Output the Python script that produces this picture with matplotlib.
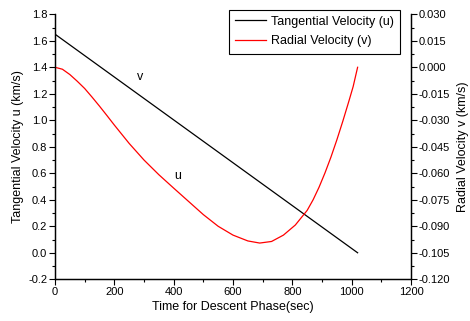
import matplotlib
matplotlib.use("Agg")
import matplotlib.pyplot as plt
from matplotlib.ticker import MultipleLocator, FormatStrFormatter

plt.rcParams['font.family'] = ['Liberation Sans', 'DejaVu Sans']

# Tangential velocity u (km/s), left axis
t_u = [0, 1020]
u_vals = [1.65, 0.0]

# Radial velocity v (km/s), right axis
t_v = [0, 25, 50, 75, 100, 125, 150, 175, 200, 250, 300, 350, 400, 450, 500,
       550, 600, 650, 690, 730, 770, 810, 850, 870, 890, 910, 930, 950, 970,
       990, 1005, 1020]
v_vals = [0.0, -0.0011, -0.0041, -0.0079, -0.0120, -0.0169, -0.0220, -0.0273,
          -0.0327, -0.0431, -0.0525, -0.0608, -0.0684, -0.0759, -0.0834,
          -0.0900, -0.0950, -0.0983, -0.0995, -0.0986, -0.0950, -0.0893,
          -0.0810, -0.0750, -0.0679, -0.0598, -0.0509, -0.0411, -0.0306,
          -0.0195, -0.0109, 0.0]

fig = plt.figure(figsize=(4.7, 3.21), dpi=100)
ax = fig.add_axes([0.117, 0.130, 0.7575, 0.8255])
ax2 = ax.twinx()

l1, = ax.plot(t_u, u_vals, color='black', lw=0.9, label='Tangential Velocity (u)')
l2, = ax2.plot(t_v, v_vals, color='red', lw=0.9, label='Radial Velocity (v)')

ax.set_xlim(0, 1200)
ax.set_ylim(-0.2, 1.8)
ax2.set_ylim(-0.12, 0.03)

ax.xaxis.set_major_locator(MultipleLocator(200))
ax.xaxis.set_minor_locator(MultipleLocator(100))
ax.yaxis.set_major_locator(MultipleLocator(0.2))
ax.yaxis.set_minor_locator(MultipleLocator(0.1))
ax.yaxis.set_major_formatter(FormatStrFormatter('%.1f'))
ax2.yaxis.set_major_locator(MultipleLocator(0.015))
ax2.yaxis.set_minor_locator(MultipleLocator(0.0075))
ax2.yaxis.set_major_formatter(FormatStrFormatter('%.3f'))

for a in (ax, ax2):
    a.spines['top'].set_visible(False)
    for s in a.spines.values():
        s.set_linewidth(0.9)
    a.tick_params(which='major', direction='out', length=4, width=0.8, labelsize=8, pad=1.5)
    a.tick_params(which='minor', direction='out', length=2.5, width=0.8)

ax.set_xlabel('Time for Descent Phase(sec)', fontsize=9, labelpad=3)
ax.set_ylabel('Tangential Velocity u (km/s)', fontsize=9, labelpad=3)
ax2.set_ylabel('Radial Velocity v (km/s)', fontsize=9, labelpad=5)

ax.text(286, 1.327, 'v', fontsize=9, ha='center', va='center')
ax.text(413, 0.582, 'u', fontsize=9, ha='center', va='center')

leg = ax.legend(handles=[l1, l2], loc='upper right', bbox_to_anchor=(0.97, 1.018),
                fontsize=9, frameon=True, fancybox=False, edgecolor='black',
                framealpha=1, handlelength=2.5, handletextpad=0.4,
                borderpad=0.5, labelspacing=0.6, borderaxespad=0)
leg.get_frame().set_linewidth(0.8)

fig.savefig('out.png', dpi=100)
